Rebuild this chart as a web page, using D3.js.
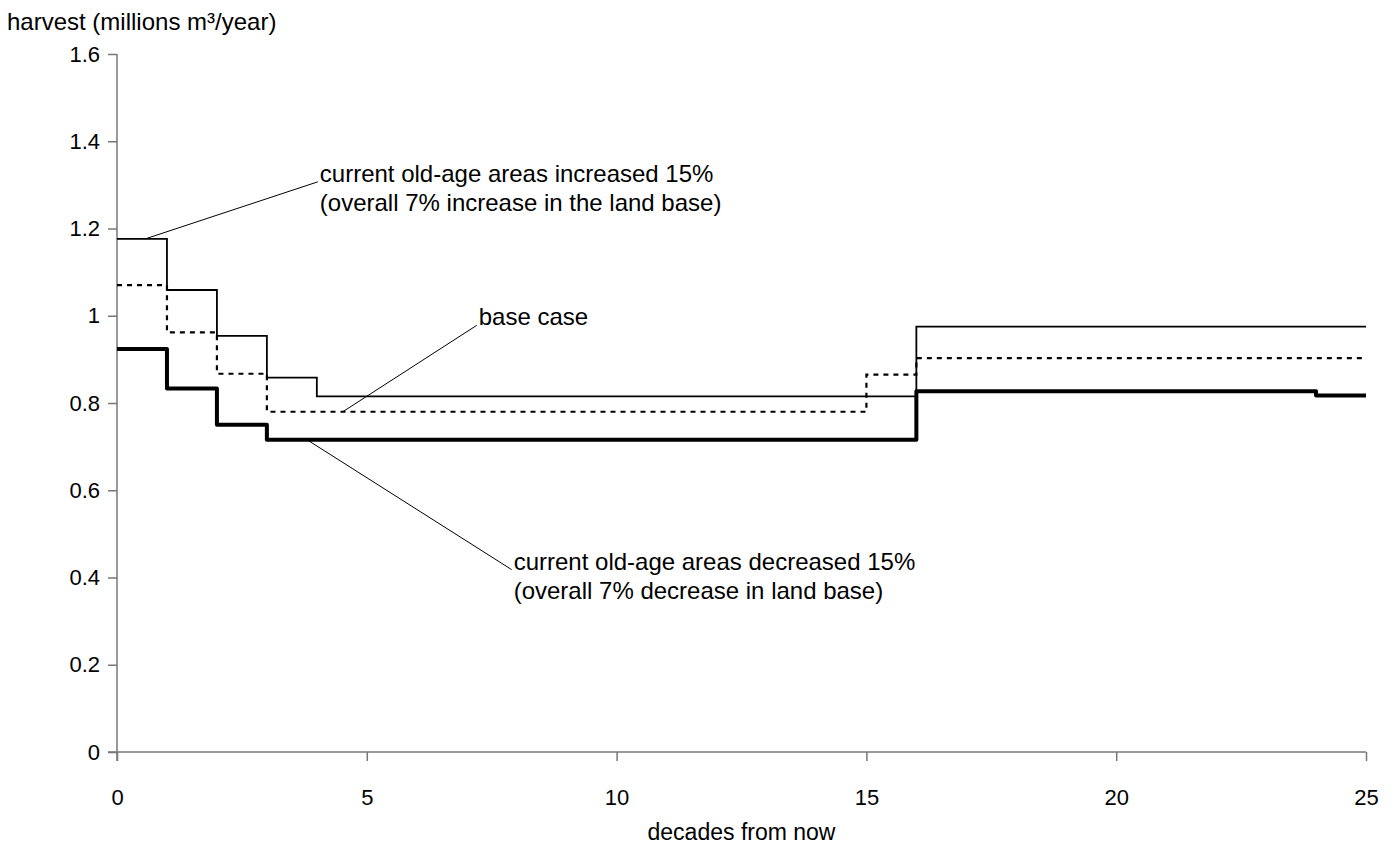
<!doctype html>
<html>
<head>
<script src="https://d3js.org/d3.v7.min.js"></script>
<style>
  body { margin: 0; background: #fff; }
  text { font-family: Arial, 'Liberation Sans', sans-serif; font-size: 24px; fill: #000; }
</style>
</head>
<body>
<svg id="chart" width="1395" height="848"></svg>
<script>
// decade at which each step starts, and harvest value (millions m3/year)
var stepsIncreased = [[0, 1.176], [1, 1.059], [2, 0.954], [3, 0.858], [4, 0.815], [16, 0.975], [25, 0.975]];
var stepsBase      = [[0, 1.070], [1, 0.962], [2, 0.867], [3, 0.780], [15, 0.865], [16, 0.903], [25, 0.903]];
var stepsDecreased = [[0, 0.924], [1, 0.833], [2, 0.750], [3, 0.716], [16, 0.827], [24, 0.817], [25, 0.817]];

var xTicks = [0, 5, 10, 15, 20, 25];
var yTicks = [0, 0.2, 0.4, 0.6, 0.8, 1, 1.2, 1.4, 1.6];

// annotations: anchor point on the line, end of leader, text lines
var notes = [
  {from: [0.56, 1.176], to: [4.02, 1.307], lines: ["current old-age areas increased 15%", "(overall 7% increase in the land base)"]},
  {from: [4.52, 0.780], to: [7.2, 0.978], lines: ["base case"]},
  {from: [3.8, 0.716], to: [7.9, 0.418], lines: ["current old-age areas decreased 15%", "(overall 7% decrease in land base)"]}
];

var margin = {top: 54, right: 29, bottom: 96, left: 117},
    width = 1395 - margin.left - margin.right,
    height = 848 - margin.top - margin.bottom;

var svg = d3.select("#chart")
  .append("g")
  .attr("transform", "translate(" + margin.left + "," + margin.top + ")");

var x = d3.scaleLinear().domain([0, 25]).range([0, width]);
var y = d3.scaleLinear().domain([0, 1.6]).range([height, 0]);

var fontFam = "Arial, 'Liberation Sans', sans-serif";

// y axis
var yAxis = svg.append("g")
  .call(d3.axisLeft(y).tickValues(yTicks).tickSize(9).tickSizeOuter(0).tickFormat(d => d3.format("~g")(d)));
yAxis.select(".domain").attr("stroke", "#777").attr("stroke-width", 1.5)
  .attr("d", "M0," + (height + 9) + "V0");
yAxis.selectAll(".tick line").attr("stroke", "#777").attr("stroke-width", 1.5);
yAxis.selectAll(".tick text").attr("x", -17).style("font-size", "22px").style("font-family", fontFam);

// x axis
var xAxis = svg.append("g")
  .attr("transform", "translate(0," + height + ")")
  .call(d3.axisBottom(x).tickValues(xTicks).tickSize(9).tickSizeOuter(0));
xAxis.select(".domain").attr("stroke", "#777").attr("stroke-width", 1.5)
  .attr("d", "M-9,0H" + width);
xAxis.selectAll(".tick line").attr("stroke", "#777").attr("stroke-width", 1.5);
xAxis.selectAll(".tick text").attr("y", 37).style("font-size", "22px").style("font-family", fontFam);

// axis titles
svg.append("text")
  .attr("x", -110).attr("y", -24)
  .text("harvest (millions m³/year)");
svg.append("text")
  .attr("x", x(12.5)).attr("y", height + 88)
  .attr("text-anchor", "middle")
  .style("font-size", "23px")
  .text("decades from now");

// step lines
var line = d3.line()
  .x(d => x(d[0]))
  .y(d => y(d[1]))
  .curve(d3.curveStepAfter);

svg.append("path").datum(stepsIncreased)
  .attr("d", line).attr("fill", "none").attr("stroke", "#000").attr("stroke-width", 1.8);
svg.append("path").datum(stepsBase)
  .attr("d", line).attr("fill", "none").attr("stroke", "#000").attr("stroke-width", 2.2)
  .attr("stroke-dasharray", "5,5");
svg.append("path").datum(stepsDecreased)
  .attr("d", line).attr("fill", "none").attr("stroke", "#000").attr("stroke-width", 4)
  .attr("stroke-linejoin", "round");

// leaders and labels
notes.forEach(function(n) {
  svg.append("line")
    .attr("x1", x(n.from[0])).attr("y1", y(n.from[1]))
    .attr("x2", x(n.to[0])).attr("y2", y(n.to[1]))
    .attr("stroke", "#000").attr("stroke-width", 1);
  var t = svg.append("text")
    .attr("x", x(n.to[0]) + 2)
    .attr("y", y(n.to[1]));
  n.lines.forEach(function(s, i) {
    t.append("tspan").attr("x", x(n.to[0]) + 2).attr("dy", i == 0 ? 0 : 29).text(s);
  });
});
</script>
</body>
</html>
